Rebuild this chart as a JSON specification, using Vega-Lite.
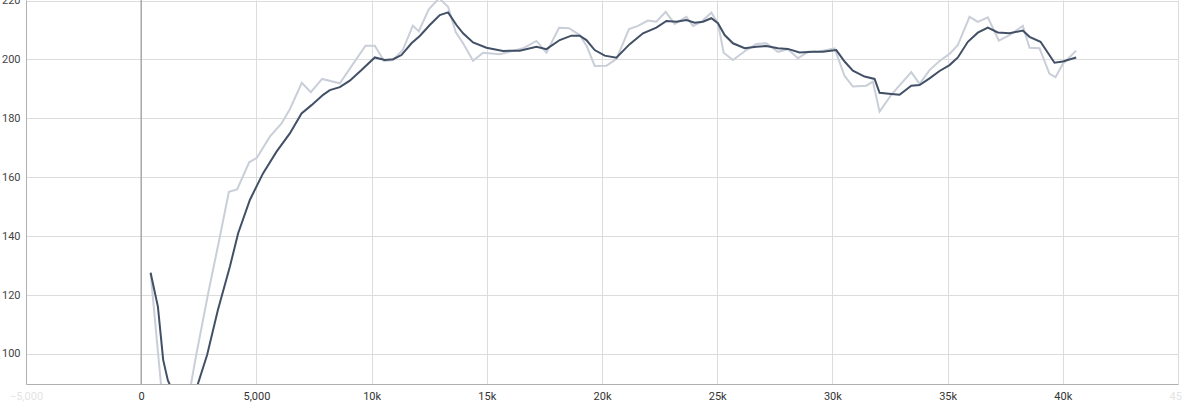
{
  "$schema": "https://vega.github.io/schema/vega-lite/v6.json",
  "autosize": "none",
  "width": 1152,
  "height": 384,
  "padding": {"left": 26, "top": 0, "right": 4, "bottom": 19},
  "background": "white",
  "config": {"font": "Roboto", "view": {"stroke": null}},
  "datasets": {
    "raw": [
      {"step":408,"value":127.6},{"step":725,"value":100.8},{"step":954,"value":82},{"step":1158,"value":77},{"step":1375,"value":74},{"step":1679,"value":76},{"step":1939,"value":80},{"step":2373,"value":99},{"step":2907,"value":120.6},{"step":3414,"value":139.8},{"step":3805,"value":155.1},{"step":4165,"value":155.9},{"step":4685,"value":165.1},{"step":5020,"value":166.6},{"step":5584,"value":173.8},{"step":6091,"value":178.3},{"step":6451,"value":183.1},{"step":6972,"value":192.1},{"step":7362,"value":188.9},{"step":7853,"value":193.4},{"step":8620,"value":191.9},{"step":9735,"value":204.7},{"step":10139,"value":204.7},{"step":10542,"value":199.5},{"step":10933,"value":199.8},{"step":11354,"value":203.2},{"step":11788,"value":211.5},{"step":12048,"value":209.6},{"step":12482,"value":217},{"step":12928,"value":220.8},{"step":13319,"value":217.9},{"step":13653,"value":209.2},{"step":13970,"value":205.5},{"step":14404,"value":199.6},{"step":14837,"value":202.3},{"step":15562,"value":201.8},{"step":15996,"value":202.6},{"step":16573,"value":203.8},{"step":17154,"value":206.3},{"step":17588,"value":202.3},{"step":18135,"value":210.8},{"step":18568,"value":210.6},{"step":19033,"value":208.3},{"step":19349,"value":204.3},{"step":19683,"value":197.8},{"step":20191,"value":197.9},{"step":20625,"value":200.1},{"step":21171,"value":210.3},{"step":21562,"value":211.4},{"step":21996,"value":213.2},{"step":22360,"value":212.8},{"step":22763,"value":216.2},{"step":23154,"value":212.1},{"step":23662,"value":214.5},{"step":23948,"value":211.4},{"step":24313,"value":212.8},{"step":24746,"value":215.9},{"step":25033,"value":212.3},{"step":25280,"value":202.3},{"step":25683,"value":199.8},{"step":26265,"value":203.2},{"step":26699,"value":205.3},{"step":27133,"value":205.5},{"step":27636,"value":202.6},{"step":28069,"value":203.5},{"step":28503,"value":200.4},{"step":28937,"value":202.6},{"step":29371,"value":202.6},{"step":30095,"value":203.8},{"step":30529,"value":194.4},{"step":30889,"value":190.8},{"step":31471,"value":191.1},{"step":31757,"value":192.5},{"step":32048,"value":182.3},{"step":32555,"value":188},{"step":33423,"value":195.7},{"step":33783,"value":191.7},{"step":34217,"value":196.4},{"step":34651,"value":199.5},{"step":35085,"value":201.9},{"step":35445,"value":204.9},{"step":35952,"value":214.5},{"step":36312,"value":212.8},{"step":36746,"value":214.3},{"step":37223,"value":206.4},{"step":37687,"value":208.3},{"step":38265,"value":211.4},{"step":38556,"value":204},{"step":38990,"value":203.8},{"step":39423,"value":195.1},{"step":39683,"value":194},{"step":40000,"value":198.5},{"step":40581,"value":203}
    ],
    "smooth": [
      {"step":408,"value":127.6},{"step":725,"value":116.1},{"step":954,"value":98},{"step":1158,"value":91},{"step":1462,"value":86},{"step":1809,"value":84},{"step":2113,"value":85},{"step":2447,"value":89.5},{"step":2863,"value":99.7},{"step":3328,"value":114.9},{"step":3848,"value":129.6},{"step":4208,"value":141},{"step":4716,"value":152.3},{"step":5293,"value":161.4},{"step":5874,"value":168.7},{"step":6451,"value":174.9},{"step":6959,"value":181.7},{"step":7393,"value":184.5},{"step":7896,"value":188},{"step":8187,"value":189.6},{"step":8620,"value":190.6},{"step":9054,"value":192.8},{"step":9562,"value":196.4},{"step":10139,"value":200.7},{"step":10573,"value":199.8},{"step":10933,"value":200.1},{"step":11297,"value":201.5},{"step":11731,"value":205.5},{"step":12091,"value":208},{"step":12525,"value":211.7},{"step":12959,"value":215.1},{"step":13319,"value":216},{"step":13683,"value":211.7},{"step":13970,"value":208.9},{"step":14404,"value":205.8},{"step":14985,"value":204},{"step":15705,"value":202.9},{"step":16429,"value":203},{"step":17154,"value":204.3},{"step":17588,"value":203.5},{"step":18165,"value":206.6},{"step":18673,"value":208.1},{"step":19033,"value":208.1},{"step":19323,"value":206.6},{"step":19683,"value":203.2},{"step":20117,"value":201.3},{"step":20625,"value":200.6},{"step":21202,"value":205.2},{"step":21779,"value":208.9},{"step":22360,"value":210.8},{"step":22794,"value":213.1},{"step":23228,"value":212.8},{"step":23662,"value":213.4},{"step":24022,"value":212.5},{"step":24382,"value":212.8},{"step":24746,"value":214},{"step":25033,"value":212.3},{"step":25323,"value":208.3},{"step":25683,"value":205.5},{"step":26191,"value":203.8},{"step":26699,"value":204.3},{"step":27133,"value":204.6},{"step":27636,"value":203.8},{"step":28069,"value":203.6},{"step":28577,"value":202.4},{"step":29154,"value":202.6},{"step":29588,"value":202.6},{"step":30169,"value":203.2},{"step":30529,"value":199.3},{"step":30889,"value":196.2},{"step":31397,"value":194.2},{"step":31831,"value":193.4},{"step":32048,"value":188.7},{"step":32555,"value":188.3},{"step":32915,"value":188},{"step":33423,"value":191.1},{"step":33783,"value":191.3},{"step":34217,"value":193.6},{"step":34651,"value":196.1},{"step":35085,"value":198.1},{"step":35445,"value":200.7},{"step":35879,"value":206},{"step":36312,"value":209.1},{"step":36746,"value":210.8},{"step":37180,"value":209.2},{"step":37687,"value":208.9},{"step":38265,"value":209.8},{"step":38556,"value":207.7},{"step":39033,"value":206},{"step":39640,"value":198.9},{"step":40000,"value":199.3},{"step":40581,"value":200.7}
    ]
  },
  "layer": [
    {
      "data": {"name": "raw"},
      "mark": {"type": "line", "color": "#c9ced9", "strokeWidth": 2, "clip": true},
      "encoding": {
        "x": {
          "field": "step", "type": "quantitative",
          "scale": {"domain": [-5000, 45000], "nice": false, "zero": false},
          "axis": {
            "title": null,
            "values": [-5000, 0, 5000, 10000, 15000, 20000, 25000, 30000, 35000, 40000, 45000],
            "labelExpr": "abs(datum.value) >= 10000 ? format(datum.value / 1000, 'd') + 'k' : format(datum.value, ',')",
            "labelFontSize": 11,
            "labelColor": {"condition": {"test": "datum.value < 0 || datum.value > 40000", "value": "#e4e4e4"}, "value": "#333333"},
            "labelPadding": 6,
            "labelFlush": false,
            "labelOverlap": false,
            "ticks": false,
            "grid": true,
            "gridColor": "#dcdcdc",
            "gridWidth": 1,
            "domainColor": "#b0b0b0",
            "domainWidth": 1
          }
        },
        "y": {
          "field": "value", "type": "quantitative",
          "scale": {"domain": [89.8, 220.2], "nice": false, "zero": false},
          "axis": {
            "title": null,
            "values": [100, 120, 140, 160, 180, 200, 220],
            "labelFontSize": 11,
            "labelColor": "#444444",
            "labelPadding": 6,
            "labelFlush": false,
            "labelOverlap": false,
            "ticks": false,
            "grid": true,
            "gridColor": "#dcdcdc",
            "gridWidth": 1,
            "domainColor": "#b0b0b0",
            "domainWidth": 1
          }
        }
      }
    },
    {
      "data": {"values": [{"zero": 0}]},
      "mark": {"type": "rule", "color": "#a8a8a8", "strokeWidth": 1.5},
      "encoding": {"x": {"field": "zero", "type": "quantitative"}}
    },
    {
      "data": {"name": "smooth"},
      "mark": {"type": "line", "color": "#425066", "strokeWidth": 2, "clip": true},
      "encoding": {
        "x": {"field": "step", "type": "quantitative"},
        "y": {"field": "value", "type": "quantitative"}
      }
    }
  ]
}
